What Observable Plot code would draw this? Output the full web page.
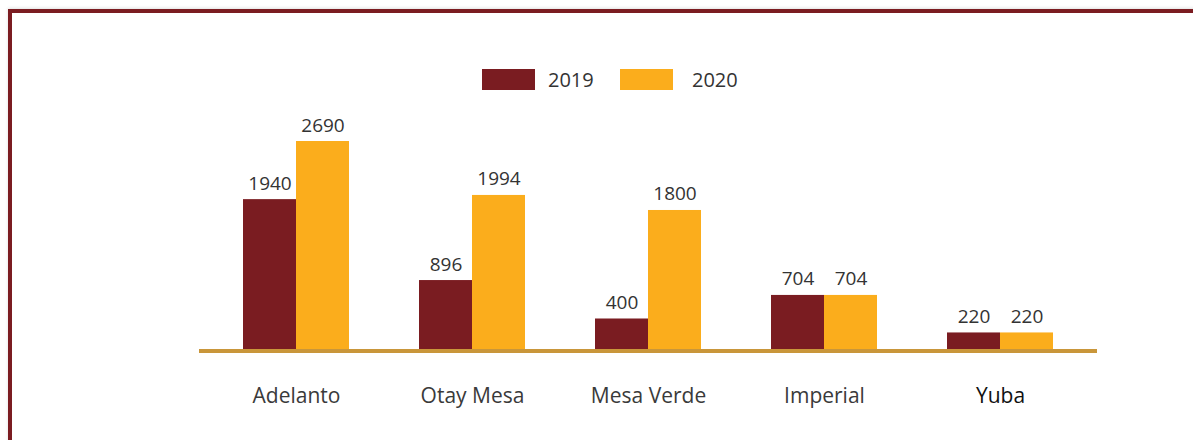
<!DOCTYPE html>
<html>
<head>
<meta charset="utf-8">
<script src="https://cdn.jsdelivr.net/npm/d3@7"></script>
<script src="https://cdn.jsdelivr.net/npm/@observablehq/plot@0.6"></script>
<style>
  html, body { margin: 0; padding: 0; background: #fff; }
  body { width: 1193px; height: 440px; overflow: hidden; position: relative; font-family: "Open Sans", sans-serif; }
  #frame { position: absolute; left: 8px; top: 9px; width: 1300px; height: 600px;
           border-top: 4px solid #7b1c21; border-left: 4px solid #7b1c21;
           box-shadow: 0 -1px 3px rgba(0,0,0,0.12); }
  #chart { position: absolute; left: 0; top: 0; }
  .legend-swatch { position: absolute; top: 69px; width: 53px; height: 21px; }
  .legend-text { position: absolute; top: 67px; font-size: 20px; line-height: 26px; color: #333; }
</style>
</head>
<body>
<div id="frame"></div>
<div id="chart"></div>
<div id="legend"></div>
<script>
const categories = ["Adelanto", "Otay Mesa", "Mesa Verde", "Imperial", "Yuba"];
const years = ["2019", "2020"];
const values2019 = [1940, 896, 400, 704, 220];
const values2020 = [2690, 1994, 1800, 704, 220];
const colors = ["#7a1c21", "#fbad1c"];

const data2019 = categories.map((c, i) => ({category: c, year: years[0], value: values2019[i]}));
const data2020 = categories.map((c, i) => ({category: c, year: years[1], value: values2020[i]}));

const chart = Plot.plot({
  width: 1193,
  height: 440,
  marginLeft: 199,
  marginRight: 96,
  marginTop: 141,
  marginBottom: 90.5,
  style: {fontFamily: "Open Sans, sans-serif", background: "transparent"},
  x: {domain: categories, paddingInner: 0.4, paddingOuter: 0.24, label: null},
  y: {domain: [0, 2690], axis: null},
  marks: [
    Plot.barY(data2019, {x: "category", y: "value", fill: colors[0], insetRight: 53}),
    Plot.barY(data2020, {x: "category", y: "value", fill: colors[1], insetLeft: 53}),
    Plot.ruleY([0], {stroke: "#c9963a", strokeWidth: 4, dy: 1}),
    Plot.text(data2019, {x: "category", y: "value", text: d => String(d.value), dx: -26.5, dy: -10,
      lineAnchor: "bottom", fontSize: 19, fill: "#333"}),
    Plot.text(data2020, {x: "category", y: "value", text: d => String(d.value), dx: 26.5, dy: -10,
      lineAnchor: "bottom", fontSize: 19, fill: "#333"}),
    Plot.axisX({tickSize: 0, tickPadding: 38, fontSize: 21, fill: "#3a3a3a", label: null})
  ]
});
document.getElementById("chart").appendChild(chart);

d3.select(chart).selectAll("text").filter(function() { return this.textContent === "Yuba"; })
  .attr("fill", "#111").style("fill", "#111");

const legend = document.getElementById("legend");
const legendPos = [{sw: 482, tx: 548}, {sw: 620, tx: 692}];
years.forEach((y, i) => {
  const s = document.createElement("div");
  s.className = "legend-swatch";
  s.style.left = legendPos[i].sw + "px";
  s.style.background = colors[i];
  legend.appendChild(s);
  const t = document.createElement("div");
  t.className = "legend-text";
  t.style.left = legendPos[i].tx + "px";
  t.textContent = y;
  legend.appendChild(t);
});
</script>
</body>
</html>
